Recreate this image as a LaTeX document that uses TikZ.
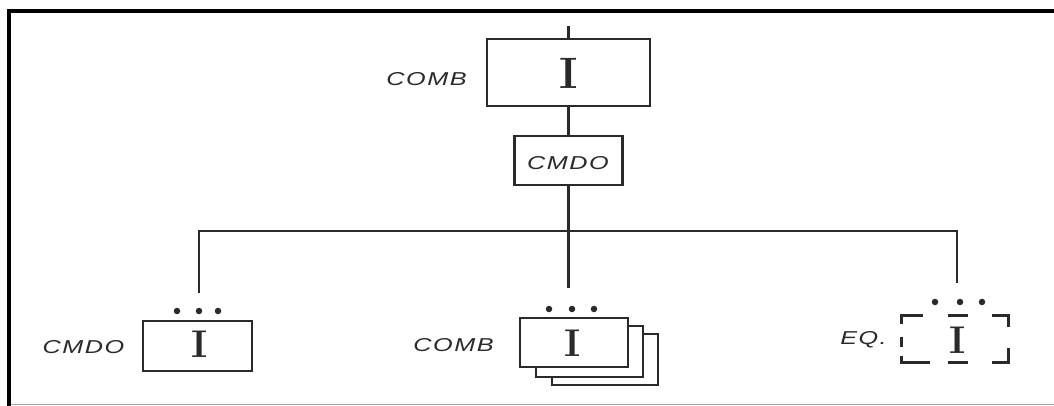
\documentclass[tikz,border=0pt]{standalone}
\usepackage{fontspec}
\usepackage{graphicx}
\newfontfamily\handfont{Liberation Sans}[LetterSpace=6]
\newcommand\hwtext[1]{\scalebox{1.35}[1]{#1}}
\usetikzlibrary{calc}
\definecolor{ink}{HTML}{2A2A2A}
\tikzset{
  box/.style={draw=ink, line width=2.2pt, fill=white, inner sep=0pt, minimum width=#1},
  box/.default={108*0.75pt},
  wire/.style={draw=ink, line width=2.2pt},
  lbl/.style={font=\handfont\itshape\fontsize{14}{15}\selectfont, text=ink, inner sep=0pt},
  bigI/.style={font=\bfseries\fontsize{33}{33}\selectfont, text=ink, inner sep=0pt},
  smallI/.style={font=\bfseries\fontsize{29}{29}\selectfont, text=ink, inner sep=0pt},
  dot/.style={circle, fill=ink, inner sep=0pt, minimum size=6.5*0.75pt},
  dashpiece/.style={draw=ink, line width=2.2pt}
}
\begin{document}
\begin{tikzpicture}[x=0.75pt, y=-0.75pt]
\useasboundingbox (0,0) rectangle (1054,406);
\fill[white] (0,0) rectangle (1054,406);
% frame
\draw[black, line width=3pt] (9,406) -- (9,11) -- (1054,11);
\draw[gray!70, line width=1pt] (11,404.5) -- (1054,404.5);

% top box
\node[box=163*0.75pt, minimum height=67*0.75pt] (top) at (568.5,72.5) {};
\node[bigI] (topI) at (568.5,73.5) {I};
\node[lbl] (topL) at (426.5,79) {\hwtext{COMB}};
\coordinate (ts) at (568.5,26);
\draw[wire] (ts) -- (top.north);

% middle CMDO box
\node[box=108*0.75pt, minimum height=49*0.75pt] (cmdo) at (568.5,160.5) {};
\node[lbl] (cmdoT) at (568,163) {\hwtext{CMDO}};
\draw[wire] (top.south) -- (cmdo.north);

% bus
\coordinate (bl) at (199,231);
\coordinate (bc) at (568.5,231);
\coordinate (br) at (957,231);
\coordinate (el) at (199,293);
\coordinate (ec) at (568.5,288);
\coordinate (er) at (957,283);
\draw[wire] (cmdo.south) -- (bc) -- (ec);
\draw[wire] (el) -- (bl) -- (br) -- (er);

% bottom left: CMDO
\node[box=109*0.75pt, minimum height=50*0.75pt] (bl1) at (197.5,346) {};
\node[smallI] (bl1I) at (200,344) {I};
\node[lbl] (bl1L) at (83.5,347) {\hwtext{CMDO}};
\node[dot] (d1) at (177,311) {};
\node[dot] (d2) at (199,311) {};
\node[dot] (d3) at (218,311) {};

% bottom middle: COMB stacked
\node[box=106*0.75pt, minimum height=51*0.75pt] (bm3) at (605,359.5) {};
\node[box=107*0.75pt, minimum height=51*0.75pt] (bm2) at (589.5,351.5) {};
\node[box=108*0.75pt, minimum height=49*0.75pt] (bm1) at (574,342.5) {};
\node[smallI] (bm1I) at (573,343) {I};
\node[lbl] (bmL) at (453.5,345) {\hwtext{COMB}};
\node[dot] (d4) at (549,309) {};
\node[dot] (d5) at (572,309) {};
\node[dot] (d6) at (594,309) {};

% bottom right: EQ. dashed
\node[inner sep=0pt, minimum width=107*0.75pt, minimum height=47*0.75pt] (eq) at (955.5,339.5) {};
\node[smallI] (eqI) at (958,340) {I};
\node[lbl] (eqL) at (863.5,340) {\hwtext{EQ.}};
\draw[dashpiece, shift={(eq.north west)}] (0,8) -- (0,0) -- (21,0);
\draw[dashpiece, shift={(eq.north west)}] (46,0) -- (66,0);
\draw[dashpiece, shift={(eq.north west)}] (90,0) -- (107,0) -- (107,11);
\draw[dashpiece, shift={(eq.north west)}] (0,21) -- (0,31);
\draw[dashpiece, shift={(eq.north west)}] (0,40) -- (0,47) -- (28,47);
\draw[dashpiece, shift={(eq.north west)}] (46,47) -- (66,47);
\draw[dashpiece, shift={(eq.north west)}] (90,47) -- (107,47) -- (107,32);
\node[dot] (d7) at (935,302) {};
\node[dot] (d8) at (960,302) {};
\node[dot] (d9) at (982,302) {};
\end{tikzpicture}
\end{document}
